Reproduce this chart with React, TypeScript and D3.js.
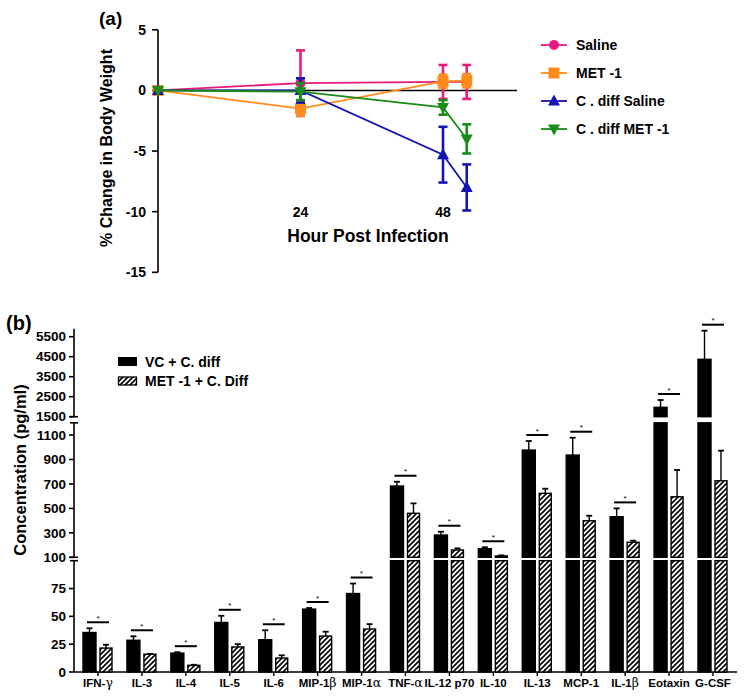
import React from "react";
import * as d3 from "d3";

// ---------- Panel (a) data ----------
const hours = [0, 24, 48, 52];
const salineMean = [0, 0.6, 0.7, 0.7];
const salineErr = [0, 2.7, 1.4, 1.4];
const met1Mean = [0, -1.5, 0.75, 0.8];
const met1Err = [0, 0.6, 0.55, 0.55];
const cdSalineMean = [0, 0, -5.3, -8.0];
const cdSalineErr = [0, 1.0, 2.3, 1.9];
const cdMetMean = [0, -0.1, -1.4, -4.0];
const cdMetErr = [0, 0.7, 0.6, 1.2];
const aYTicks = [5, 0, -5, -10, -15];
const aXTickLabels = [24, 48];

// ---------- Panel (b) data ----------
const cytokines = ["IFN-γ", "IL-3", "IL-4", "IL-5", "IL-6", "MIP-1β", "MIP-1α", "TNF-α", "IL-12 p70", "IL-10", "IL-13", "MCP-1", "IL-1β", "Eotaxin", "G-CSF"];
const vcMean = [35.5, 28.5, 17, 44.5, 29, 56.5, 70.5, 683, 282, 170, 977, 936, 432, 1970, 4370];
const vcErr = [3.8, 3.6, 0.8, 6, 8.5, 1, 9, 35, 27, 12, 74, 142, 68, 365, 1430];
const metMean = [21.5, 16, 6, 22.5, 12.5, 32.3, 38.6, 460, 160, 111, 623, 399, 223, 595, 726];
const metErr = [3, 0.3, 0.5, 2.5, 2.5, 3.9, 4.4, 81, 13, 5, 38, 41, 13, 219, 246];
const bTicksLow = [0, 25, 50, 75];
const bTicksMid = [100, 300, 500, 700, 900, 1100];
const bTicksHigh = [1500, 2500, 3500, 4500, 5500];

const FONT = "Arial, 'Liberation Sans', Helvetica, sans-serif";

function PanelA() {
  const x = d3.scaleLinear().domain([0, 48]).range([158, 443]);
  const y = d3.scaleLinear().domain([-15, 5]).range([272.3, 29.8]);
  const series = [
    { name: "Saline", color: "#ea1a7f", mean: salineMean, err: salineErr, marker: "circle" },
    { name: "MET -1", color: "#ff8c1a", mean: met1Mean, err: met1Err, marker: "square" },
    { name: "C . diff Saline", color: "#1414b4", mean: cdSalineMean, err: cdSalineErr, marker: "up" },
    { name: "C . diff MET -1", color: "#198c19", mean: cdMetMean, err: cdMetErr, marker: "down" },
  ];
  const line = d3.line<number>().x((_, i) => x(hours[i])).y((d) => y(d));
  const marker = (m: string, cx: number, cy: number, color: string, key: string) => {
    if (m === "circle") return <circle key={key} cx={cx} cy={cy} r={5} fill={color} />;
    if (m === "square") return <rect key={key} x={cx - 5.5} y={cy - 5.5} width={11} height={11} fill={color} />;
    if (m === "up") return <path key={key} d={`M${cx},${cy - 6.5}L${cx + 6},${cy + 4.5}L${cx - 6},${cy + 4.5}Z`} fill={color} />;
    return <path key={key} d={`M${cx},${cy + 6.5}L${cx + 6},${cy - 4.5}L${cx - 6},${cy - 4.5}Z`} fill={color} />;
  };
  return (
    <g fontFamily={FONT} fontWeight="bold">
      <text x={99} y={25} fontSize={19}>(a)</text>
      <line x1={158} x2={158} y1={y(5)} y2={y(-15)} stroke="#000" strokeWidth={1.6} />
      {aYTicks.map((t) => (
        <g key={t}>
          <line x1={152} x2={158} y1={y(t)} y2={y(t)} stroke="#000" strokeWidth={1.6} />
          <text x={146} y={y(t)} dy="0.35em" textAnchor="end" fontSize={14}>{t}</text>
        </g>
      ))}
      <line x1={158} x2={517} y1={y(0)} y2={y(0)} stroke="#000" strokeWidth={1.6} />
      {aXTickLabels.map((t) => (
        <text key={t} x={x(t)} y={y(-10)} dy="0.35em" textAnchor="middle" fontSize={14}>{t}</text>
      ))}
      <text x={368} y={242} textAnchor="middle" fontSize={17.5}>Hour Post Infection</text>
      <text transform={`translate(112,148) rotate(-90)`} textAnchor="middle" fontSize={16}>% Change in Body Weight</text>
      {series.map((s) => (
        <g key={s.name}>
          <path d={line(s.mean) || ""} fill="none" stroke={s.color} strokeWidth={1.8} />
          {s.mean.map((m, i) =>
            s.err[i] > 0 ? (
              <g key={i} stroke={s.color} strokeWidth={2.6}>
                <line x1={x(hours[i])} x2={x(hours[i])} y1={y(m + s.err[i])} y2={y(m - s.err[i])} />
                <line x1={x(hours[i]) - 4.5} x2={x(hours[i]) + 4.5} y1={y(m + s.err[i])} y2={y(m + s.err[i])} />
                <line x1={x(hours[i]) - 4.5} x2={x(hours[i]) + 4.5} y1={y(m - s.err[i])} y2={y(m - s.err[i])} />
              </g>
            ) : null
          )}
          {s.mean.map((m, i) => marker(s.marker, x(hours[i]), y(m), s.color, "m" + i))}
        </g>
      ))}
      {series.map((s, i) => {
        const ly = 45 + i * 28;
        return (
          <g key={s.name}>
            <line x1={541} x2={567} y1={ly} y2={ly} stroke={s.color} strokeWidth={1.8} />
            {marker(s.marker, 554, ly, s.color, "lg")}
            <text x={576} y={ly} dy="0.35em" fontSize={14}>{s.name}</text>
          </g>
        );
      })}
    </g>
  );
}

function PanelB() {
  const segLow = d3.scaleLinear().domain([0, 100]).range([672, 560.7]);
  const segMid = d3.scaleLinear().domain([100, 1200]).range([557.3, 422.8]);
  const segHigh = d3.scaleLinear().domain([1500, 5900]).range([416.7, 328.7]);
  const yv = (v: number) => (v <= 100 ? segLow(v) : v <= 1350 ? segMid(v) : segHigh(v));
  const xc = d3.scalePoint<string>().domain(cytokines).range([98, 713]);
  const axisX = 74;

  const barRects = (v: number, x0: number, w: number, fill: string, key: string) => {
    const parts: [number, number][] = [];
    parts.push([segLow(Math.min(v, 100)), segLow(0)]);
    if (v > 100) parts.push([segMid(Math.min(v, 1200)), segMid(100)]);
    if (v > 1500) parts.push([segHigh(v), segHigh(1500)]);
    return parts.map(([top, bot], j) => (
      <rect key={key + j} x={x0} y={top} width={w} height={bot - top} fill={fill} stroke="#000" strokeWidth={1.4} />
    ));
  };

  const label = (c: string) => {
    const greek = c.match(/[αβγ]/);
    if (!greek) return c;
    const idx = c.indexOf(greek[0]);
    return (
      <>
        {c.slice(0, idx)}
        <tspan fontFamily="'DejaVu Serif', 'Liberation Serif', serif" fontWeight="normal" fontSize={12.5}>{greek[0]}</tspan>
      </>
    );
  };

  return (
    <g fontFamily={FONT} fontWeight="bold">
      <defs>
        <pattern id="hatch" patternUnits="userSpaceOnUse" width={5} height={5}>
          <rect width={5} height={5} fill="#fff" />
          <path d="M-1,1 L1,-1 M0,5 L5,0 M4,6 L6,4" stroke="#000" strokeWidth={1.7} />
        </pattern>
      </defs>
      <text x={6} y={330} fontSize={20}>(b)</text>
      <line x1={axisX} x2={axisX} y1={segLow(0)} y2={segLow(100)} stroke="#000" strokeWidth={1.6} />
      <line x1={axisX} x2={axisX} y1={segMid(100)} y2={segMid(1200)} stroke="#000" strokeWidth={1.6} />
      <line x1={axisX} x2={axisX} y1={segHigh(1500)} y2={segHigh(5900)} stroke="#000" strokeWidth={1.6} />
      {[segLow(100), segMid(100), segMid(1200), segHigh(1500)].map((yy, i) => (
        <line key={"br" + i} x1={axisX - 4} x2={axisX + 4} y1={yy} y2={yy} stroke="#000" strokeWidth={1.6} />
      ))}
      {bTicksLow.map((t) => (
        <g key={"l" + t}>
          <line x1={axisX - 5} x2={axisX} y1={segLow(t)} y2={segLow(t)} stroke="#000" strokeWidth={1.6} />
          <text x={66} y={segLow(t)} dy="0.35em" textAnchor="end" fontSize={13.5}>{t}</text>
        </g>
      ))}
      {bTicksMid.map((t) => (
        <g key={"m" + t}>
          <line x1={axisX - 5} x2={axisX} y1={segMid(t)} y2={segMid(t)} stroke="#000" strokeWidth={1.6} />
          <text x={66} y={segMid(t)} dy="0.35em" textAnchor="end" fontSize={13.5}>{t}</text>
        </g>
      ))}
      {bTicksHigh.map((t) => (
        <g key={"h" + t}>
          <line x1={axisX - 5} x2={axisX} y1={segHigh(t)} y2={segHigh(t)} stroke="#000" strokeWidth={1.6} />
          <text x={66} y={segHigh(t)} dy="0.35em" textAnchor="end" fontSize={13.5}>{t}</text>
        </g>
      ))}
      <text transform="translate(26,470) rotate(-90)" textAnchor="middle" fontSize={16.5}>Concentration (pg/ml)</text>
      <line x1={axisX} x2={737} y1={672} y2={672} stroke="#000" strokeWidth={1.6} />
      {cytokines.map((c, i) => {
        const cx = xc(c)!;
        const vcTop = yv(vcMean[i] + vcErr[i]);
        const metTop = yv(metMean[i] + metErr[i]);
        const sigY = Math.min(vcTop, metTop) - 6;
        return (
          <g key={c}>
            <line x1={cx} x2={cx} y1={672} y2={676} stroke="#000" strokeWidth={1.4} />
            <line x1={cx - 8.5} x2={cx - 8.5} y1={yv(vcMean[i])} y2={vcTop} stroke="#000" strokeWidth={1.4} />
            <line x1={cx - 11.5} x2={cx - 5.5} y1={vcTop} y2={vcTop} stroke="#000" strokeWidth={1.8} />
            <line x1={cx + 8} x2={cx + 8} y1={yv(metMean[i])} y2={metTop} stroke="#000" strokeWidth={1.4} />
            <line x1={cx + 5} x2={cx + 11} y1={metTop} y2={metTop} stroke="#000" strokeWidth={1.8} />
            {barRects(vcMean[i], cx - 15, 13, "#000", "vc" + i)}
            {barRects(metMean[i], cx + 2, 12, "url(#hatch)", "mt" + i)}
            <line x1={cx - 11} x2={cx + 11} y1={sigY} y2={sigY} stroke="#000" strokeWidth={2} />
            <text x={cx} y={sigY - 1.5} textAnchor="middle" fontSize={8} fontWeight="normal">*</text>
            <text x={cx} y={687} textAnchor="middle" fontSize={11.5}>{label(c)}</text>
          </g>
        );
      })}
      <rect x={118} y={357} width={19} height={9} fill="#000" />
      <text x={145} y={362} dy="0.35em" fontSize={14}>VC + C. diff</text>
      <rect x={118.5} y={377} width={18} height={8} fill="url(#hatch)" stroke="#000" strokeWidth={1.3} />
      <text x={145} y={381} dy="0.35em" fontSize={14}>MET -1 + C. Diff</text>
    </g>
  );
}

export default function App() {
  return (
    <svg width={749} height={699} style={{ position: "absolute", left: 0, top: 0, background: "#fff" }}>
      <rect width={749} height={699} fill="#fff" />
      <PanelA />
      <PanelB />
    </svg>
  );
}
